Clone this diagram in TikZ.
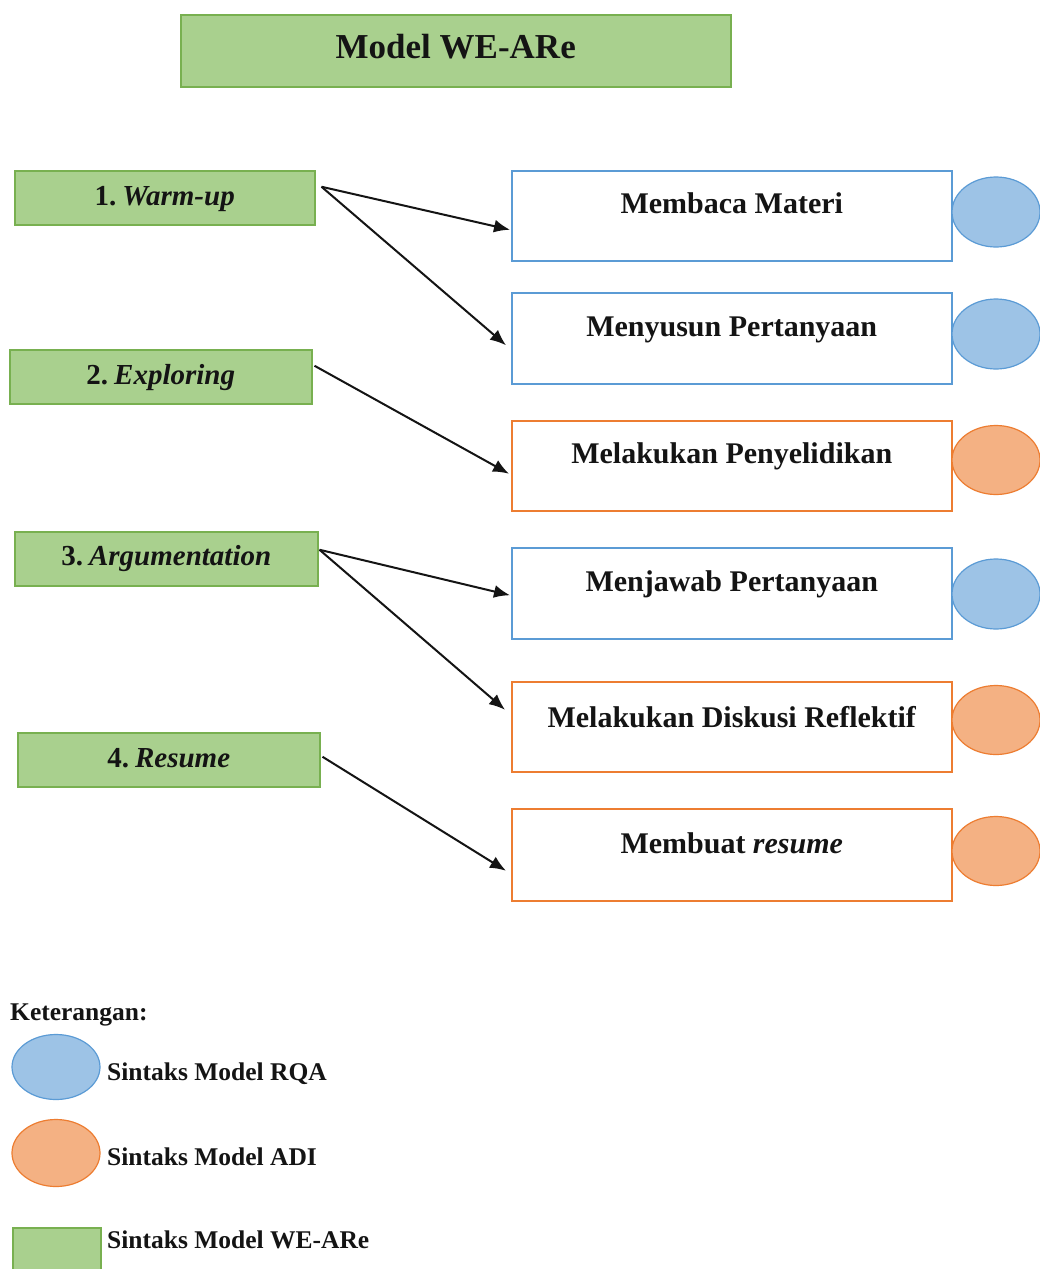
\documentclass[tikz,border=0pt]{standalone}
\usepackage{fontspec}
\setmainfont{Liberation Serif}
\usetikzlibrary{arrows.meta,shapes.geometric}
\newcommand\myfs[1]{\fontsize{#1}{#1}\selectfont}
\definecolor{gfill}{RGB}{169,208,142}
\definecolor{gdraw}{RGB}{120,176,80}
\definecolor{bdraw}{RGB}{91,155,213}
\definecolor{bfill}{RGB}{157,195,230}
\definecolor{odraw}{RGB}{237,125,49}
\definecolor{ofill}{RGB}{244,177,131}
\definecolor{ink}{RGB}{20,20,20}
\tikzset{
  gbox/.style={draw=gdraw, fill=gfill, line width=1.5pt, inner sep=0pt, minimum width=300pt,
    text height=35pt, text depth=19pt, anchor=north west, font=\myfs{29}\bfseries, text=ink},
  titlebox/.style={draw=gdraw, fill=gfill, line width=1.5pt, inner sep=0pt, minimum width=550pt,
    text height=44pt, text depth=28pt, anchor=north west, font=\myfs{35}\bfseries, text=ink},
  rbox/.style={fill=white, line width=1.5pt, inner sep=0pt, minimum width=440pt,
    text height=44pt, text depth=47pt, anchor=north west, font=\myfs{30}\bfseries, text=ink},
  bluebox/.style={rbox, draw=bdraw},
  orangebox/.style={rbox, draw=odraw},
  bell/.style={ellipse, draw=bdraw, fill=bfill, line width=1.2pt, inner sep=0pt, minimum width=88pt, minimum height=70pt},
  oell/.style={ellipse, draw=odraw, fill=ofill, line width=1.2pt, inner sep=0pt, minimum width=88pt, minimum height=69pt},
  conn/.style={line width=2pt, draw=ink, -{Latex[length=16pt,width=13pt]}},
  legtext/.style={anchor=base west, inner sep=0pt, font=\myfs{25.5}\bfseries, text=ink},
}
\begin{document}
\begin{tikzpicture}[x=1pt,y=-1pt]
\useasboundingbox (0,0) rectangle (1040,1269);
\fill[white] (0,0) rectangle (1040,1269);
\clip (0,0) rectangle (1040,1269);

% title
\node[titlebox] (title) at (180,14) {Model WE-ARe};

% left green boxes
\node[gbox] (w1) at (14,170) {1.\hspace{6pt}\textit{Warm-up}};
\node[gbox, minimum width=302pt] (w2) at (9,349) {2.\hspace{6pt}\textit{Exploring}};
\node[gbox, minimum width=303pt, text height=34pt, text depth=20pt] (w3) at (14,531) {3.\hspace{6pt}\textit{Argumentation}};
\node[gbox, minimum width=302pt] (w4) at (17,732) {4.\hspace{6pt}\textit{Resume}};

% right boxes
\node[bluebox, text height=43pt, text depth=47pt] (m1) at (511,170) {Membaca Materi};
\node[bluebox] (m2) at (511,292) {Menyusun Pertanyaan};
\node[orangebox, text height=43pt, text depth=47pt] (m3) at (511,420) {Melakukan Penyelidikan};
\node[bluebox] (m4) at (511,547) {Menjawab Pertanyaan};
\node[orangebox, text height=46pt, text depth=44pt] (m5) at (511,681) {Melakukan Diskusi Reflektif};
\node[orangebox, text height=45pt, text depth=47pt] (m6) at (511,808) {Membuat \textit{resume}};

% ellipses
\node[bell] (e1) at (996,212) {};
\node[bell] (e2) at (996,334) {};
\node[oell] (e3) at (996,460) {};
\node[bell] (e4) at (996,594) {};
\node[oell] (e5) at (996,720) {};
\node[oell] (e6) at (996,851) {};

% connectors
\draw[conn] ([xshift=6pt,yshift=11pt]w1.east) -- ([xshift=-1pt,yshift=-14pt]m1.west);
\draw[conn] ([xshift=6pt,yshift=11pt]w1.east) -- ([xshift=-5pt,yshift=-7pt]m2.west);
\draw[conn] ([xshift=2pt,yshift=11pt]w2.east) -- ([xshift=-2pt,yshift=-8pt]m3.west);
\draw[conn] ([xshift=1pt,yshift=9pt]w3.east) -- ([xshift=-1pt,yshift=-2pt]m4.west);
\draw[conn] ([xshift=1pt,yshift=9pt]w3.east) -- ([xshift=-6pt,yshift=17pt]m5.west);
\draw[conn] ([xshift=2pt,yshift=3pt]w4.east) -- ([xshift=-5pt,yshift=-16pt]m6.west);

% legend
\node[legtext] (ket) at (10,1020) {Keterangan:};
\node[bell, minimum width=88pt, minimum height=65pt] (l1) at (56,1067) {};
\node[legtext] (l1t) at (107,1080) {Sintaks Model RQA};
\node[oell, minimum width=88pt, minimum height=67pt] (l2) at (56,1153) {};
\node[legtext] (l2t) at (107,1165) {Sintaks Model ADI};
\node[draw=gdraw, fill=gfill, line width=1.5pt, inner sep=0pt, minimum width=88pt, minimum height=60pt, anchor=north west] (l3) at (12,1227) {};
\node[legtext] (l3t) at (107,1248) {Sintaks Model WE-ARe};
\end{tikzpicture}
\end{document}
